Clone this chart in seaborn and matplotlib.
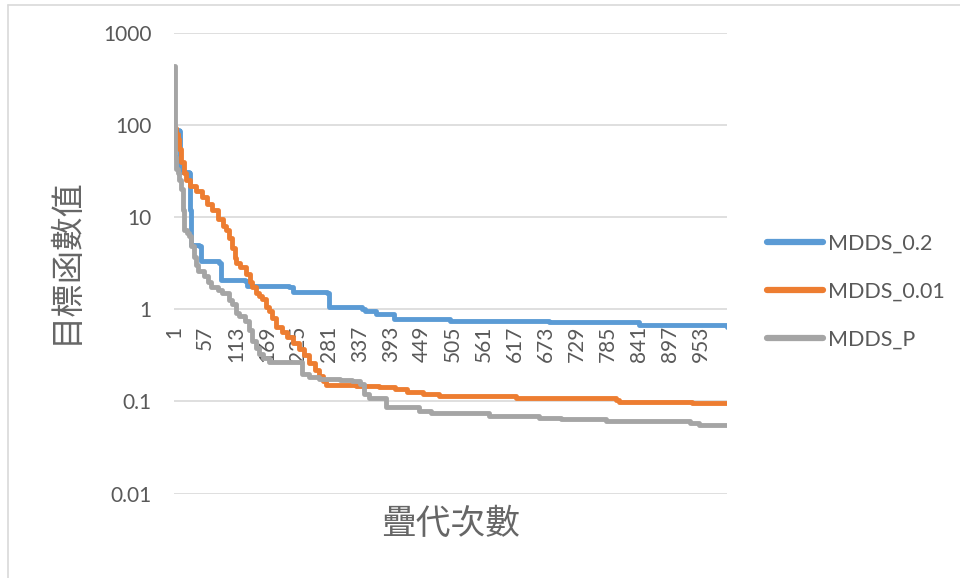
import numpy as np
import pandas as pd
import matplotlib
matplotlib.use("Agg")
import matplotlib.pyplot as plt
import seaborn as sns
from matplotlib.lines import Line2D
from matplotlib.ticker import NullLocator

# ==============================================================================
# DATA (best-so-far objective value at each improvement)
# ==============================================================================
series_names = ["MDDS_0.2", "MDDS_0.01", "MDDS_P"]
series_colors = ["#5B9BD5", "#ED7D31", "#A5A5A5"]

iter_02 = [1, 9, 11, 14, 28, 30, 32, 46, 50, 81, 85, 128, 132, 208, 216,
           277, 280, 340, 345, 366, 399, 500, 679, 819, 842, 1000]
val_02 = [88, 85, 35, 31, 30, 12, 5.0, 4.8, 3.3, 3.2, 2.1, 2.05, 1.8, 1.75, 1.55,
          1.5, 1.07, 1.02, 0.95, 0.88, 0.78, 0.75, 0.73, 0.72, 0.68, 0.65]

iter_001 = [1, 5, 8, 10, 14, 18, 22, 30, 40, 51, 60, 69, 80, 90, 95, 100, 105,
            110, 113, 120, 131, 138, 142, 149, 155, 160, 167, 172, 178, 185, 195,
            205, 215, 227, 235, 245, 255, 263, 270, 276, 330, 372, 400, 421, 450,
            480, 619, 800, 806, 938, 1000]
val_001 = [92, 80, 70, 55, 40, 30, 25.5, 22, 19, 16.5, 14, 12, 9.5, 8, 7.3, 6, 4.6,
           3.6, 3.2, 2.9, 2.4, 2.0, 1.75, 1.5, 1.4, 1.3, 1.07, 0.95, 0.8, 0.65, 0.57,
           0.5, 0.43, 0.37, 0.32, 0.26, 0.22, 0.19, 0.165, 0.15, 0.148, 0.143, 0.135, 0.127, 0.12,
           0.115, 0.11, 0.104, 0.099, 0.096, 0.096]

iter_p = [1, 2, 3, 4, 8, 10, 13, 16, 19, 24, 28, 32, 37, 40, 44, 55, 62, 68, 80, 88,
          100, 106, 112, 118, 128, 136, 142, 148, 155, 162, 172, 200, 232, 245, 262,
          300, 322, 336, 344, 354, 384, 444, 466, 571, 661, 700, 782, 933, 950, 1000]
val_p = [430, 120, 45, 33, 30, 25, 20, 12, 7.3, 6.8, 6.2, 4.8, 3.7, 3.0, 2.6, 2.3, 2.0, 1.75,
         1.6, 1.5, 1.25, 1.15, 0.92, 0.85, 0.75, 0.6, 0.45, 0.38, 0.33, 0.30, 0.27, 0.265,
         0.2, 0.185, 0.175, 0.17, 0.165, 0.155, 0.12, 0.11, 0.088, 0.078, 0.075, 0.069,
         0.066, 0.065, 0.061, 0.058, 0.056, 0.055]

n_iter = 1000
x_ticks = list(range(1, n_iter + 1, 56))
y_ticks = [0.01, 0.1, 1, 10, 100, 1000]
y_ticklabels = ["0.01", "0.1", "1", "10", "100", "1000"]

# ==============================================================================
# PLOT
# ==============================================================================
sns.set_theme(style="white")
plt.rcParams["font.family"] = ["Lato", "Noto Sans CJK TC", "DejaVu Sans"]
text_color = "#595959"

fig = plt.figure(figsize=(9.6, 5.78), dpi=100)
ax = fig.add_axes([174 / 960, 1 - 493.7 / 578, (727 - 174) / 960, (493.7 - 32.7) / 578])

for name, color, it, val in zip(series_names, series_colors,
                                [iter_02, iter_001, iter_p], [val_02, val_001, val_p]):
    sns.lineplot(x=it, y=val, ax=ax, color=color, lw=3.5, label=name,
                 drawstyle="steps-post", estimator=None, sort=False)

ax.set_yscale("log")
ax.set_ylim(0.01, 1000)
ax.set_xlim(0.5, n_iter + 0.5)
ax.set_yticks(y_ticks)
ax.set_yticklabels(y_ticklabels)
ax.yaxis.set_minor_locator(NullLocator())
ax.set_xticks(x_ticks)
ax.set_xticklabels([str(t) for t in x_ticks])

ax.grid(axis="y", color="#D9D9D9", lw=1.2)
ax.grid(axis="x", visible=False)
# category axis crosses the log value axis at 1
ax.spines["bottom"].set_position(("data", 1))
for s in ax.spines.values():
    s.set_visible(False)
ax.tick_params(axis="both", length=0, labelsize=15, labelcolor=text_color)
ax.tick_params(axis="x", pad=12, labelrotation=90)
ax.tick_params(axis="y", pad=16)

leg = ax.legend(loc="center left", bbox_to_anchor=(767 / 960, 1 - 292 / 578),
                bbox_transform=fig.transFigure, frameon=False, fontsize=15.5,
                handlelength=2.6, handletextpad=0.25, labelspacing=1.3,
                borderpad=0, borderaxespad=0)
for t in leg.get_texts():
    t.set_color(text_color)
for h in leg.get_lines():
    h.set_linewidth(4.5)
    h.set_solid_capstyle("round")

fig.text(65 / 960, 1 - 261 / 578, "目標函數值", rotation=90, ha="center", va="center",
         fontsize=24, family=["Noto Sans CJK TC"], color="#666666")
fig.text(451 / 960, 1 - 524 / 578, "疊代次數", ha="center", va="center",
         fontsize=25, family=["Noto Sans CJK TC"], color="#666666")

# chart area border (left and top edges are visible in the screenshot)
fig.add_artist(Line2D([8 / 960, 8 / 960], [0, 1 - 4.5 / 578], transform=fig.transFigure,
                      color="#D9D9D9", lw=1.2))
fig.add_artist(Line2D([8 / 960, 1], [1 - 4.5 / 578, 1 - 4.5 / 578], transform=fig.transFigure,
                      color="#D9D9D9", lw=1.2))

fig.savefig("out.png", dpi=100)
